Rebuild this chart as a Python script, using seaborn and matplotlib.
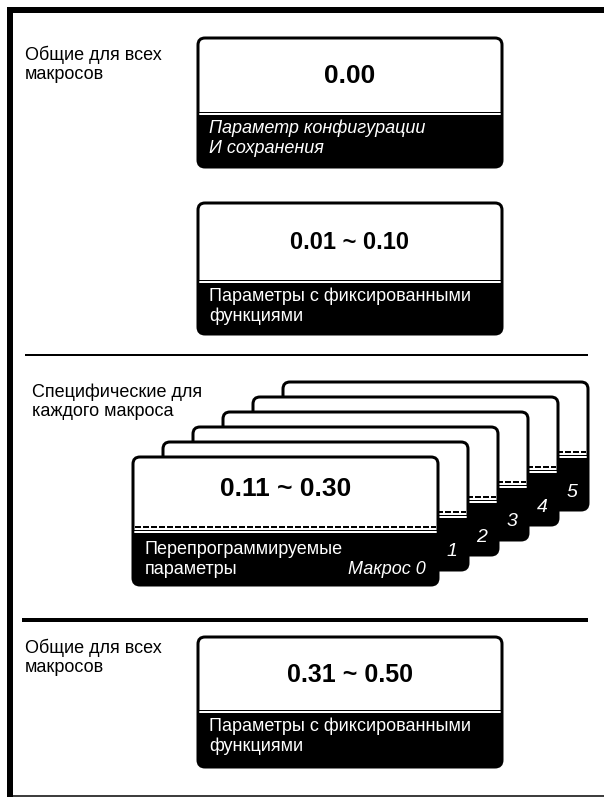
import matplotlib
matplotlib.use("Agg")
import matplotlib.pyplot as plt
import seaborn as sns
from matplotlib.patches import FancyBboxPatch, Rectangle

# Texts of the diagram
section_labels = [["Общие для всех", "макросов"],
                  ["Специфические для", "каждого макроса"],
                  ["Общие для всех", "макросов"]]
box_titles = ["0.00", "0.01 ~ 0.10", "0.31 ~ 0.50"]
box_captions = [["Параметр конфигурации", "И сохранения"],
                ["Параметры с фиксированными", "функциями"],
                ["Параметры с фиксированными", "функциями"]]
box_italic = [True, False, False]
macro_title = "0.11 ~ 0.30"
macro_caption = ["Перепрограммируемые", "параметры"]
macro_numbers = ["Макрос 0", "1", "2", "3", "4", "5"]

# layout (pixels, y downwards)
box_x = (198, 502)
box_y = [(38, 112, 167), (203, 280, 334), (637, 710, 767)]
title_size = [19, 17, 18]
label_pos = [(25, 55), (32, 392), (25, 648)]
card0 = (133, 457, 438, 585, 530)  # x0, y0, x1, y1, sep
card_dx, card_dy = 30, -15

sns.set_theme(style="white")
plt.rcParams["font.family"] = ["Liberation Sans", "DejaVu Sans"]
plt.rcParams["text.color"] = "black"

fig = plt.figure(figsize=(6.04, 7.97), dpi=100)
ax = fig.add_axes([0, 0, 1, 1])
ax.set_xlim(0, 604)
ax.set_ylim(797, 0)
ax.axis("off")

PT = 0.72  # px -> pt at 100 dpi
FS = 13


def card(x0, y0, x1, y1, sep, dashed=False, z=1):
    body = FancyBboxPatch((x0, y0), x1 - x0, y1 - y0,
                          boxstyle="round,pad=0,rounding_size=7",
                          fc="white", ec="black", lw=3 * PT, zorder=z)
    ax.add_patch(body)
    low = Rectangle((x0 - 3, sep), x1 - x0 + 6, y1 - sep + 3, fc="black", ec="none", zorder=z + 0.1)
    ax.add_patch(low)
    low.set_clip_path(body)
    if dashed:
        ax.plot([x0 + 2, x1 - 2], [sep - 3.5, sep - 3.5], color="black", lw=2 * PT,
                ls=(0, (3, 1)), zorder=z + 0.2, solid_capstyle="butt")
        ax.plot([x0 + 2, x1 - 2], [sep + 1.5, sep + 1.5], color="white", lw=2 * PT, zorder=z + 0.2)
    else:
        ax.plot([x0 + 2, x1 - 2], [sep + 2, sep + 2], color="white", lw=2 * PT, zorder=z + 0.2)


# frame
ax.plot([7, 604], [10, 10], color="black", lw=6 * PT, solid_capstyle="butt")
ax.plot([10, 10], [7, 797], color="black", lw=6 * PT, solid_capstyle="butt")
ax.plot([7, 604], [795.5, 795.5], color="black", lw=1.5 * PT, solid_capstyle="butt")
ax.plot([25, 588], [355, 355], color="black", lw=2 * PT, solid_capstyle="butt")
ax.plot([22, 588], [619.5, 619.5], color="black", lw=4 * PT, solid_capstyle="butt")

# section labels
for (lx, ly), lines in zip(label_pos, section_labels):
    for k, line in enumerate(lines):
        ax.text(lx, ly + k * 19, line, fontsize=FS, va="center", ha="left")

# fixed boxes
for (y0, sep, y1), title, ts, cap, it in zip(box_y, box_titles, title_size, box_captions, box_italic):
    card(box_x[0], y0, box_x[1], y1, sep, z=2)
    ax.text((box_x[0] + box_x[1]) / 2, (y0 + sep) / 2 + 1, title, fontsize=ts, fontweight="bold",
            ha="center", va="center", zorder=5)
    for k, line in enumerate(cap):
        ax.text(box_x[0] + 11, sep + 16 + k * 20, line, fontsize=FS, color="white",
                style="italic" if it else "normal", ha="left", va="center", zorder=5)

# macro cards, back to front
x0, y0, x1, y1, sep = card0
for i in range(len(macro_numbers) - 1, -1, -1):
    dx, dy = card_dx * i, card_dy * i
    card(x0 + dx, y0 + dy, x1 + dx, y1 + dy, sep + dy, dashed=True, z=10 - i)
    if i > 0:
        ax.text(x1 + dx - 16, y1 + dy - 18, macro_numbers[i], fontsize=14, color="white",
                style="italic", ha="center", va="center", zorder=10 - i + 0.5)

ax.text((x0 + x1) / 2, 489, macro_title, fontsize=19, fontweight="bold", ha="center", va="center", zorder=12)
for k, line in enumerate(macro_caption):
    ax.text(x0 + 12, 550 + k * 20, line, fontsize=FS, color="white", ha="left", va="center", zorder=12)
ax.text(x1 - 12, 570, macro_numbers[0], fontsize=FS, color="white", style="italic",
        ha="right", va="center", zorder=12)

fig.savefig("out.png", dpi=100)
